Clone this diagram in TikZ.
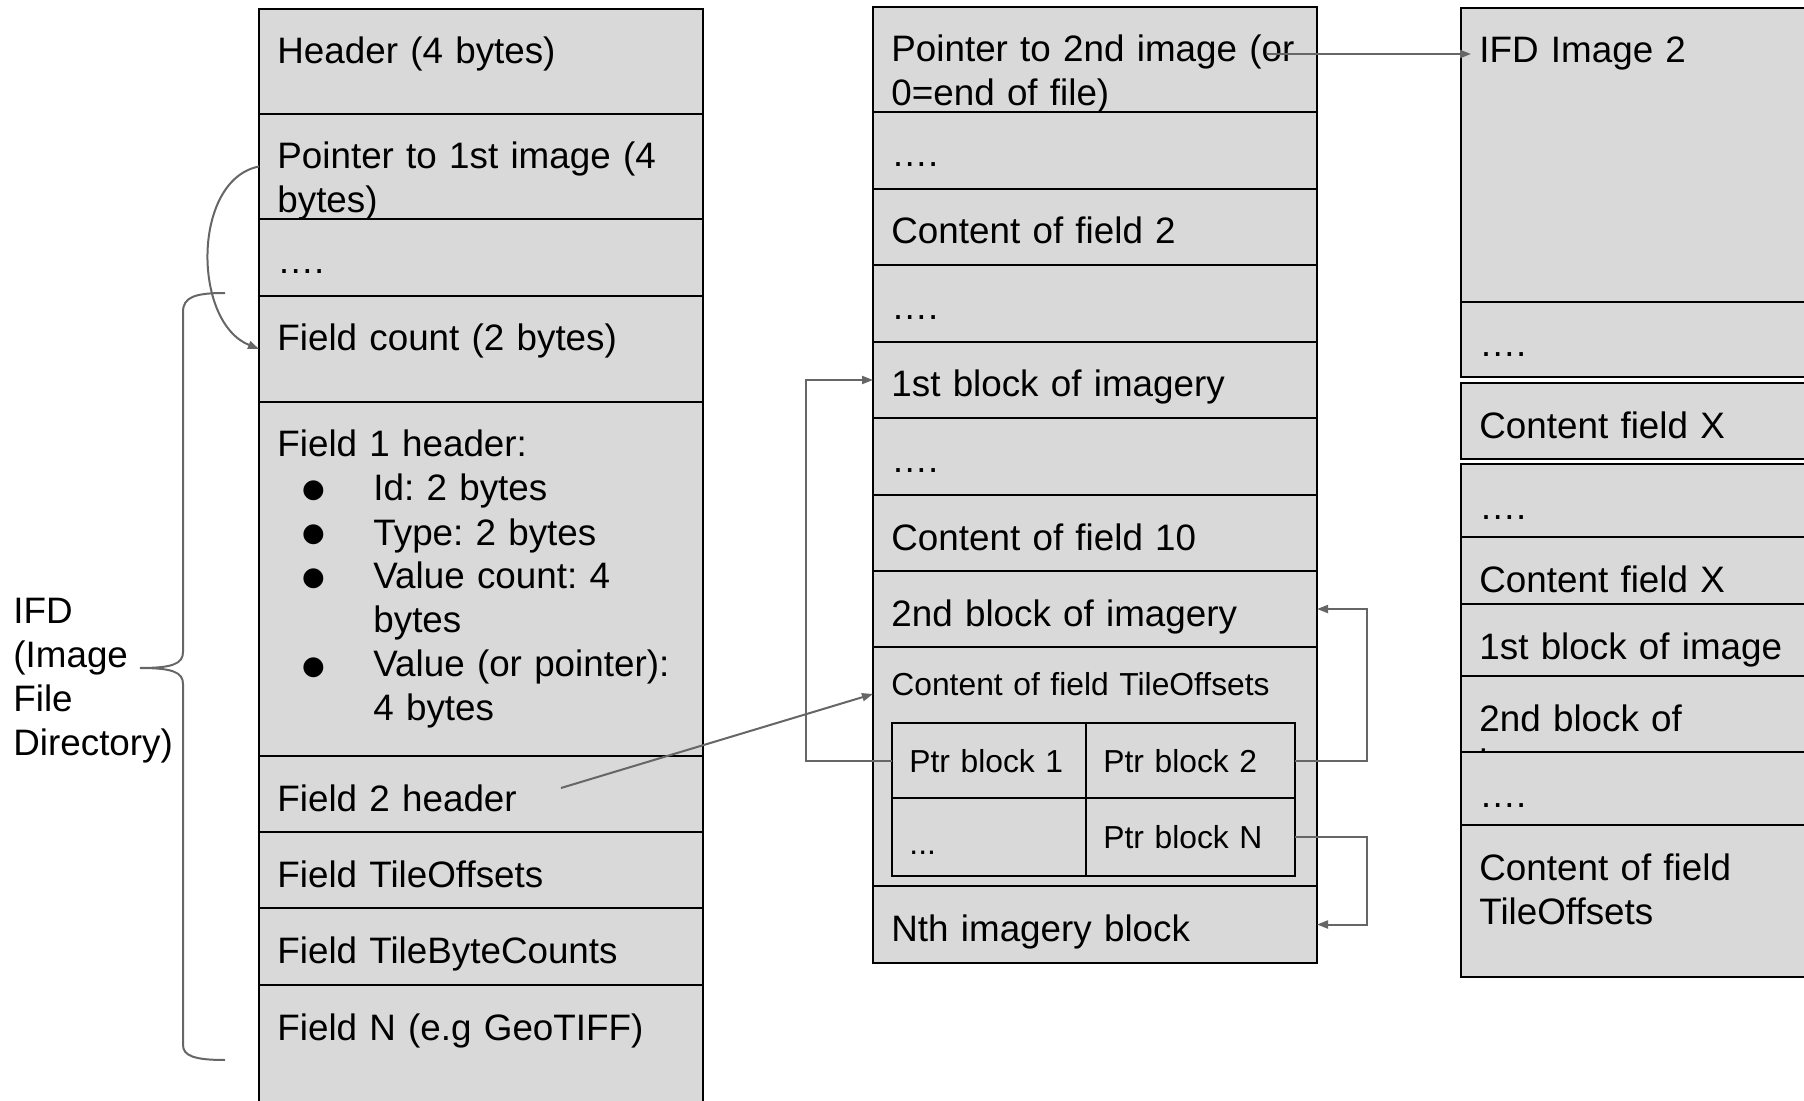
\documentclass[tikz,border=0pt]{standalone}
\usepackage{fontspec}
\setmainfont{Liberation Sans}
\newfontfamily\bulletfont{DejaVu Sans}
\usetikzlibrary{fit,arrows.meta}
\definecolor{cellgray}{HTML}{D9D9D9}
\definecolor{linkgray}{HTML}{666666}
\frenchspacing
\tikzset{
    cell/.style={draw=black, line width=1pt, fill=cellgray, inner sep=0pt, outer sep=0pt},
    celltext/.style={anchor=base west, inner sep=0pt, text width=400pt, align=left},
    smalltext/.style={font=\fontsize{15.9}{19}\selectfont},
    link/.style={draw=linkgray, line width=1pt, -{Triangle[length=5.5pt,width=4pt]}},
    brace/.style={draw=linkgray, line width=1pt},
}
\newcommand{\cellbox}[6]{
    \node[cell, fit={(#2,#3) (#4,#5)}] (#1) {};
    \node[celltext] (#1-t) at ([shift={(18,55)}]#1.north west) {#6};
}
\newcommand{\bitem}{\makebox[48pt][l]{\hspace*{18pt}\makebox[0pt]{\raisebox{1.5pt}{\bulletfont\fontsize{13}{13}\selectfont ●}}}}

\begin{document}
\begin{tikzpicture}[x=0.5pt,y=-0.5pt,font=\fontsize{18.4}{22}\selectfont]
        \path[use as bounding box, clip] (0,0) rectangle (1804,1101);
        % first IFD
        \cellbox{hdr}{259}{9}{703}{114}{Header (4 bytes)}
        \cellbox{ptrone}{259}{114}{703}{219}{Pointer to 1st image (4\\bytes)}
        \cellbox{dotsa}{259}{219}{703}{296}{….}
        \cellbox{fcount}{259}{296}{703}{402}{Field count (2 bytes)}
        \cellbox{fldone}{259}{402}{703}{756}{Field 1 header:\\
            \bitem Id: 2 bytes\\
            \bitem Type: 2 bytes\\
            \bitem Value count: 4\\
            \hspace*{48pt}bytes\\
            \bitem Value (or pointer):\\
            \hspace*{48pt}4 bytes}
        \cellbox{fldtwo}{259}{756}{703}{832}{Field 2 header}
        \cellbox{tileofs}{259}{832}{703}{908}{Field TileOffsets}
        \cellbox{tilebc}{259}{908}{703}{985}{Field TileByteCounts}
        \cellbox{fldn}{259}{985}{703}{1120}{Field N (e.g GeoTIFF)}
        % data of first image
        \cellbox{ptrtwo}{873}{7}{1317}{112}{Pointer to 2nd image (or\\0=end of file)}
        \cellbox{dotsb}{873}{112}{1317}{189}{….}
        \cellbox{cftwo}{873}{189}{1317}{265}{Content of field 2}
        \cellbox{dotsc}{873}{265}{1317}{342}{….}
        \cellbox{blkone}{873}{342}{1317}{418}{1st block of imagery}
        \cellbox{dotsd}{873}{418}{1317}{495}{….}
        \cellbox{cften}{873}{495}{1317}{571}{Content of field 10}
        \cellbox{blktwo}{873}{571}{1317}{647}{2nd block of imagery}
        \node[cell, fit={(873,647) (1317,886)}] (cfto) {};
        \node[celltext, smalltext] (cfto-t) at ([shift={(18,48)}]cfto.north west) {Content of field TileOffsets};
        \foreach \nm/\xa/\ya/\xb/\yb/\dy/\txt in {pbone/892/723/1086/798/49/{Ptr block 1},
                pbtwo/1086/723/1295/798/49/{Ptr block 2},
                pbdots/892/798/1086/876/56/{...},
                pbn/1086/798/1295/876/50/{Ptr block N}} {
            \node[cell, fit={(\xa,\ya) (\xb,\yb)}] (\nm) {};
            \node[celltext, smalltext] (\nm-t) at ([shift={(17,\dy)}]\nm.north west) {\txt};
        }
        \cellbox{nth}{873}{886}{1317}{963}{Nth imagery block}
        % second IFD
        \cellbox{ifdtwo}{1461}{8}{1830}{302}{IFD Image 2}
        \cellbox{dotse}{1461}{302}{1830}{377}{….}
        \cellbox{cfxa}{1461}{383}{1830}{459}{Content field X}
        \cellbox{dotsf}{1461}{464}{1830}{537}{….}
        \cellbox{cfxb}{1461}{537}{1830}{604}{Content field X}
        \cellbox{blkimgone}{1461}{604}{1830}{676}{1st block of image}
        \cellbox{blkimgtwo}{1461}{676}{1830}{752}{2nd block of\\imagery}
        \cellbox{dotsg}{1461}{752}{1830}{825}{….}
        \cellbox{cftob}{1461}{825}{1830}{977}{Content of field\\TileOffsets}
        % brace and its label
        \node[celltext, text width=200pt] (ifdlabel) at (13,623) {IFD\\(Image\\File\\Directory)};
        \draw[brace] (225,293) .. controls (195,293) and (183,297) .. (183,312) -- (183,652)
            .. controls (183,664) and (172,668) .. (140,668)
            .. controls (172,668) and (183,672) .. (183,684) -- (183,1045)
            .. controls (183,1056) and (195,1060) .. (225,1060);
        % pointers
        \draw[link] (ptrone.west) .. controls +(-67,13) and +(-67,-27) .. (fcount.west);
        \coordinate (nextptr) at ([shift={(393,47)}]ptrtwo.north west);
        \coordinate (ifdin) at (nextptr -| ifdtwo.west);
        \draw[link] (nextptr) -- ([xshift=5pt]ifdin);
        \coordinate (fldtwoptr) at ([shift={(302,32)}]fldtwo.north west);
        \draw[link] (fldtwoptr) -- ([shift={(0,47)}]cfto.north west);
        \draw[link] (pbone.west) -- ++(-86,0) |- (blkone.west);
        \draw[link] (pbtwo.east) -- ++(72,0) |- (blktwo.east);
        \draw[link] (pbn.east) -- ++(72,0) |- (nth.east);
\end{tikzpicture}
\end{document}
